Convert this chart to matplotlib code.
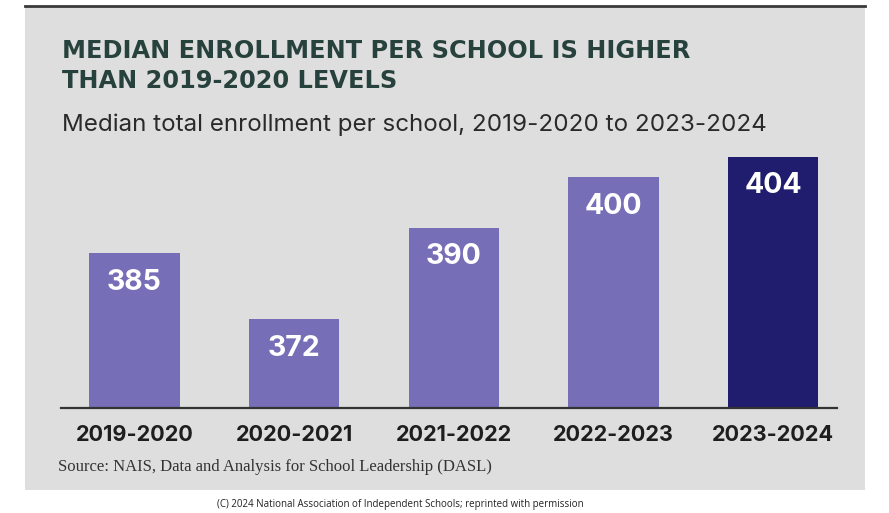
import matplotlib.pyplot as plt
from matplotlib.patches import Rectangle

# data
years = ["2019-2020", "2020-2021", "2021-2022", "2022-2023", "2023-2024"]
enrollment = [385, 372, 390, 400, 404]
bar_colors = ["#766fb8", "#766fb8", "#766fb8", "#766fb8", "#201c6e"]

W, H = 889, 513
fig = plt.figure(figsize=(W / 100, H / 100), dpi=100)
fig.patch.set_facecolor("white")

# gray panel with dark rule on top
fig.add_artist(Rectangle((25 / W, 1 - 490 / H), 840 / W, 484 / H,
                         transform=fig.transFigure, facecolor="#dedede",
                         edgecolor="none", zorder=0))
fig.add_artist(plt.Line2D([25 / W, 865 / W], [1 - 6 / H, 1 - 6 / H],
                          transform=fig.transFigure, color="#3a3a3a", lw=2))

ax = fig.add_axes([61 / W, 1 - 408 / H, 776 / W, 268 / H])
ax.set_facecolor("none")
x = range(len(years))
bars = ax.bar(x, enrollment, width=0.565, color=bar_colors, zorder=2)
ax.set_xlim(-0.46, 4.40)
ax.set_ylim(354.4, 407.3)

for rect, v in zip(bars, enrollment):
    ax.annotate(str(v), (rect.get_x() + rect.get_width() / 2, v),
                xytext=(0, -21), textcoords="offset points",
                ha="center", va="center", color="white",
                fontsize=20.5, fontweight="bold", family="Inter")

for s in ["top", "right", "left"]:
    ax.spines[s].set_visible(False)
ax.spines["bottom"].set_color("#333333")
ax.spines["bottom"].set_linewidth(1.6)
ax.set_yticks([])
ax.set_xticks(list(x))
ax.set_xticklabels(years, fontsize=15.6, fontweight="bold", family="Inter",
                   color="#1e1e1e")
ax.tick_params(axis="x", length=0, pad=12)

fig.text(62 / W, 1 - 51 / H, "MEDIAN ENROLLMENT PER SCHOOL IS HIGHER",
         fontsize=17.3, fontweight="bold", family="DejaVu Sans",
         color="#27413c", va="center")
fig.text(62 / W, 1 - 81 / H, "THAN 2019-2020 LEVELS",
         fontsize=17.3, fontweight="bold", family="DejaVu Sans",
         color="#27413c", va="center")
fig.text(62 / W, 1 - 125 / H,
         "Median total enrollment per school, 2019-2020 to 2023-2024",
         fontsize=17.4, family="Inter", color="#2a2a2a", va="center")
fig.text(58 / W, 1 - 467 / H,
         "Source: NAIS, Data and Analysis for School Leadership (DASL)",
         fontsize=12, family="Liberation Serif", color="#333333", va="center")
fig.text(400 / W, 1 - 505 / H,
         "(C) 2024 National Association of Independent Schools; reprinted with permission",
         fontsize=7, family="Open Sans", color="#222222", ha="center",
         va="center")

fig.savefig("out.png", dpi=100)
